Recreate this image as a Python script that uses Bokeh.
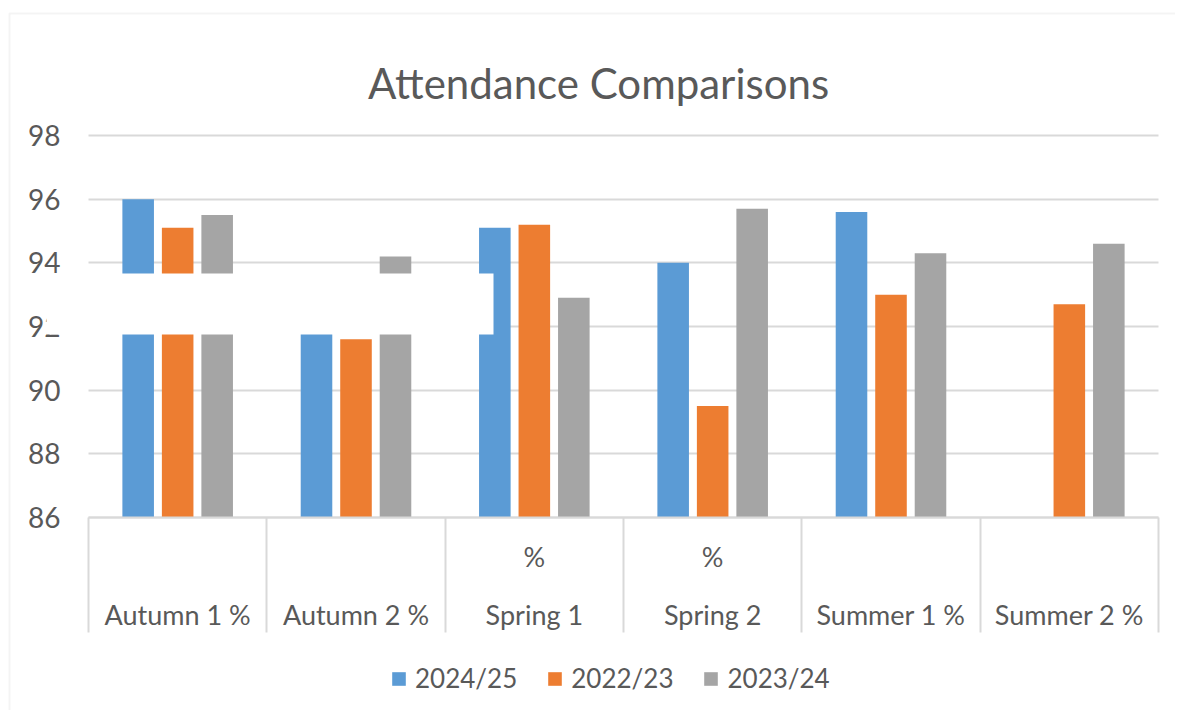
import numpy as np
from bokeh.plotting import figure
from bokeh.models import (Range1d, FixedTicker, Legend, LegendItem, BoxAnnotation,
                          LinearAxis, Grid, Label)
from bokeh.embed import file_html
from bokeh.resources import INLINE

# ---------------- data ----------------
categories = ["Autumn 1 %", "Autumn 2 %", "Spring 1 %", "Spring 2 %", "Summer 1 %", "Summer 2 %"]
series_names = ["2024/25", "2022/23", "2023/24"]
values_2024_25 = [96.0, 92.0, 95.1, 94.0, 95.6, np.nan]
values_2022_23 = [95.1, 91.6, 95.2, 89.5, 93.0, 92.7]
values_2023_24 = [95.5, 94.2, 92.9, 95.7, 94.3, 94.6]
y_ticks = [86, 88, 90, 92, 94, 96, 98]
y_min, y_max = 86, 98
# category labels whose "%" is wrapped onto a separate line in the picture
wrapped_labels = {"Spring 1 %", "Spring 2 %"}
chart_title = "Attendance Comparisons"

# ---------------- layout / style ----------------
colors = ["#5B9BD5", "#ED7D31", "#A5A5A5"]
grid_color = "#D9D9D9"
text_color = "#595959"
font = "Lato"

W, H = 1175, 710
PLOT_L, PLOT_R, PLOT_T, PLOT_B = 88, 1158, 135, 517   # plot area in canvas pixels
N = len(categories)
CAT_PX = (PLOT_R - PLOT_L) / N
UNIT_PX = (PLOT_B - PLOT_T) / (y_max - y_min)


def px_to_x(px):
    return (px - PLOT_L) / CAT_PX


def py_to_y(py):
    return y_max - (py - PLOT_T) / UNIT_PX


p = figure(width=W, height=H, output_backend="svg", toolbar_location=None,
           x_range=Range1d(px_to_x(0), px_to_x(W)),
           y_range=Range1d(py_to_y(H), py_to_y(0)),
           x_axis_location=None, y_axis_location=None,
           min_border=0, min_border_left=0, min_border_right=0,
           min_border_top=0, min_border_bottom=0)
p.title.visible = False
p.outline_line_color = None
p.background_fill_color = "white"
p.border_fill_color = "white"
# drop the default full-canvas grids
for g in list(p.grid):
    g.visible = False

# horizontal gridlines over the plot area only
p.add_layout(Grid(dimension=1, ticker=FixedTicker(ticks=y_ticks), cross_bounds=(0, N),
                  grid_line_color=grid_color, grid_line_width=2))

centers = np.arange(N) + 0.5
step = 0.2215
bar_w = 0.177
series = [values_2024_25, values_2022_23, values_2023_24]
renderers = []
for i, (vals, col) in enumerate(zip(series, colors)):
    r = p.vbar(x=centers + (i - 1) * step, top=vals, bottom=y_min, width=bar_w,
               fill_color=col, line_color=None)
    renderers.append(r)

# y axis (value labels)
yax = LinearAxis(fixed_location=0, ticker=FixedTicker(ticks=y_ticks), bounds=(y_min, y_max))
yax.axis_line_color = None
yax.major_tick_line_color = None
yax.minor_tick_line_color = None
yax.major_tick_out = 0
yax.minor_tick_out = 0
yax.major_label_standoff = 28
yax.major_label_text_font = font
yax.major_label_text_font_size = "28px"
yax.major_label_text_color = text_color
p.add_layout(yax, "left")

# x axis 1: axis line, separators at category boundaries, wrapped "%" line
ax1 = LinearAxis(fixed_location=y_min, bounds=(0, N),
                 ticker=FixedTicker(ticks=list(centers), minor_ticks=list(range(N + 1))))
ax1.axis_line_color = grid_color
ax1.axis_line_width = 2
ax1.major_tick_line_color = None
ax1.major_tick_in = 0
ax1.major_tick_out = 0
ax1.minor_tick_in = 0
ax1.minor_tick_out = 115
ax1.minor_tick_line_color = grid_color
ax1.minor_tick_line_width = 2
ax1.major_label_standoff = -93
ax1.major_label_text_font = font
ax1.major_label_text_font_size = "27px"
ax1.major_label_text_color = text_color
ax1.major_label_overrides = {float(c): ("%" if n in wrapped_labels else "")
                             for c, n in zip(centers, categories)}
p.add_layout(ax1, "below")

# x axis 2: category names
ax2 = LinearAxis(fixed_location=y_min, bounds=(0, N), ticker=FixedTicker(ticks=list(centers)))
ax2.axis_line_color = None
ax2.major_tick_line_color = None
ax2.major_tick_in = 0
ax2.major_tick_out = 0
ax2.minor_tick_line_color = None
ax2.minor_tick_in = 0
ax2.minor_tick_out = 0
ax2.major_label_standoff = 80
ax2.major_label_text_font = font
ax2.major_label_text_font_size = "27px"
ax2.major_label_text_color = text_color
ax2.major_label_overrides = {float(c): (n[:-2] if n in wrapped_labels else n)
                             for c, n in zip(centers, categories)}
p.add_layout(ax2, "below")

# title
p.add_layout(Label(x=px_to_x(598), y=py_to_y(82), text=chart_title,
                   text_align="center", text_baseline="alphabetic",
                   text_font=font, text_font_size="42px", text_color=text_color))

# white patch seen over part of the chart
p.add_layout(BoxAnnotation(left=px_to_x(46), right=px_to_x(493), bottom=py_to_y(334),
                           top=py_to_y(273), fill_color="white", fill_alpha=1,
                           line_color=None, level="overlay"))

# chart-area border (only its left and top edges are in view)
p.add_layout(BoxAnnotation(left=px_to_x(9), top=py_to_y(13), right=px_to_x(W + 100),
                           bottom=py_to_y(H + 100), fill_alpha=0, line_color=grid_color,
                           line_width=2, level="overlay"))

legend = Legend(items=[LegendItem(label=n, renderers=[r]) for n, r in zip(series_names, renderers)],
                orientation="horizontal", location=(390, H - 694))
legend.label_text_font = font
legend.label_text_font_size = "26px"
legend.label_text_color = text_color
legend.glyph_width = 17
legend.glyph_height = 17
legend.label_standoff = 8
legend.spacing = 29
legend.padding = 0
legend.margin = 0
legend.border_line_color = None
legend.background_fill_alpha = 0
p.add_layout(legend)

open("out.html", "w").write(file_html(p, INLINE))
